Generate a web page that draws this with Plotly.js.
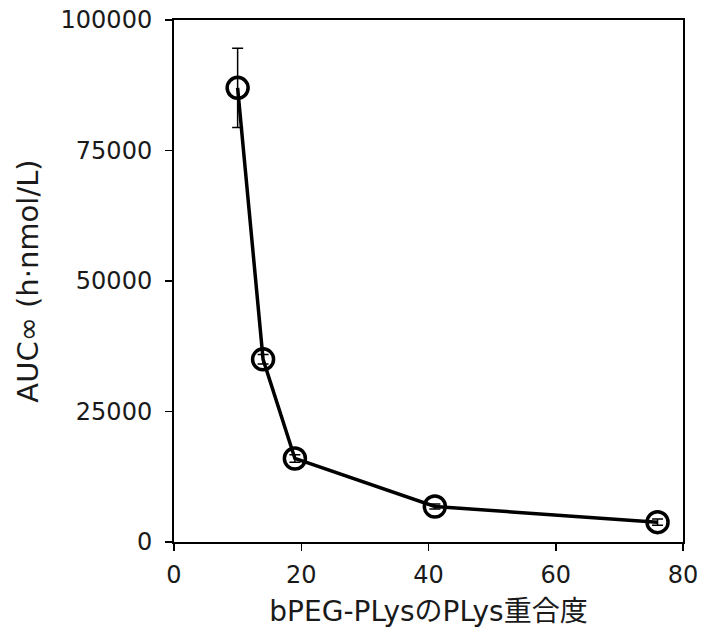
<!DOCTYPE html>
<html>
<head>
<meta charset="utf-8">
<script src="https://cdn.plot.ly/plotly-3.0.1.min.js"></script>
<style>html,body{margin:0;padding:0;background:#fff;}#chart{width:704px;height:642px;}</style>
</head>
<body>
<div id="chart"></div>
<script>
const degree = [10, 14, 19, 41, 76];
const auc = [87000, 35000, 16000, 6800, 3800];
const aucErr = [7600, 900, 700, 500, 600];
const xTicks = [0, 20, 40, 60, 80];
const yTicks = [0, 25000, 50000, 75000, 100000];

const font = "'DejaVu Sans', 'Noto Sans CJK JP', sans-serif";

Plotly.newPlot('chart', [{
  x: degree,
  y: auc,
  type: 'scatter',
  mode: 'lines+markers',
  line: {color: '#000', width: 3.5},
  marker: {symbol: 'circle-open', size: 21, color: '#000', line: {width: 3.5, color: '#000'}},
  error_y: {type: 'data', array: aucErr, visible: true, color: '#000', thickness: 1.5, width: 5.5},
  hoverinfo: 'none'
}], {
  width: 704, height: 642,
  margin: {l: 174, r: 21, t: 20, b: 100},
  paper_bgcolor: '#fff', plot_bgcolor: '#fff',
  showlegend: false,
  font: {family: font, color: '#1a1a1a', size: 24},
  xaxis: {
    range: [0, 80], tickvals: xTicks, ticktext: xTicks.map(String),
    showgrid: false, zeroline: false,
    showline: true, linecolor: '#000', linewidth: 2, mirror: true,
    ticks: 'outside', ticklen: 7, tickwidth: 1.5, tickcolor: '#000',
    ticklabelstandoff: 3,
    tickfont: {family: font, size: 24, color: '#1a1a1a'},
    title: {text: 'bPEG-PLysのPLys重合度', font: {family: font, size: 28, color: '#1a1a1a'}, standoff: 14}
  },
  yaxis: {
    range: [0, 100000], tickvals: yTicks, ticktext: yTicks.map(String),
    showgrid: false, zeroline: false,
    showline: true, linecolor: '#000', linewidth: 2, mirror: true,
    ticks: 'outside', ticklen: 7, tickwidth: 1.5, tickcolor: '#000',
    ticklabelstandoff: 8,
    tickfont: {family: font, size: 24, color: '#1a1a1a'},
    title: {text: 'AUC∞ (h·nmol/L)', font: {family: font, size: 29, color: '#1a1a1a'}, standoff: 13}
  }
}, {staticPlot: true});
</script>
</body>
</html>
